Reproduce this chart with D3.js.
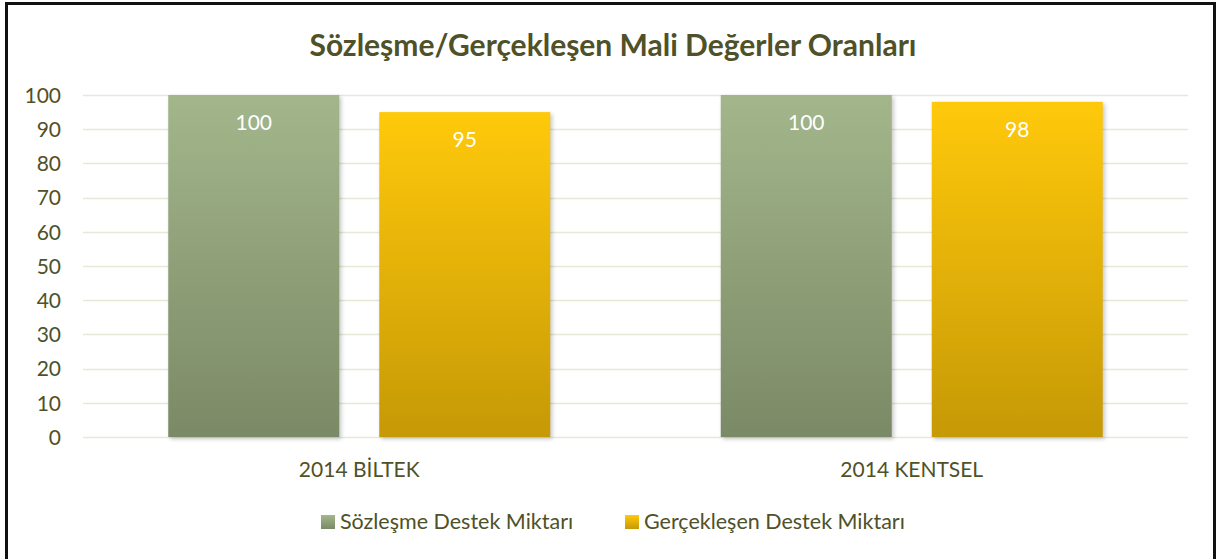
<!DOCTYPE html>
<html><head><meta charset="utf-8">
<script src="https://cdn.jsdelivr.net/npm/d3@7"></script>
<style>
html,body{margin:0;padding:0;background:#fff;}
svg{display:block;}
text{font-family:Lato,"Open Sans",sans-serif;}
</style></head>
<body>
<svg id="c" width="1217" height="559"></svg>
<script>
const title = "Sözleşme/Gerçekleşen Mali Değerler Oranları";
const categories = ["2014 BİLTEK", "2014 KENTSEL"];
const seriesNames = ["Sözleşme Destek Miktarı", "Gerçekleşen Destek Miktarı"];
const sozlesme = [100, 100];
const gerceklesen = [95, 98];
const yTicks = [0,10,20,30,40,50,60,70,80,90,100];

const W = 1217, H = 559;
const svg = d3.select("#c");
const textCol = "#4F5128";

const defs = svg.append("defs");
function grad(id, top, bot){
  const g = defs.append("linearGradient").attr("id", id).attr("x1",0).attr("y1",0).attr("x2",0).attr("y2",1);
  g.append("stop").attr("offset","0%").attr("stop-color",top);
  g.append("stop").attr("offset","100%").attr("stop-color",bot);
}
grad("gGreen", "#A3B68B", "#7B8A66");
grad("gGold", "#FFC90B", "#C69906");
const f = defs.append("filter").attr("id","blur").attr("x","-20%").attr("y","-20%").attr("width","140%").attr("height","140%");
f.append("feGaussianBlur").attr("stdDeviation",2.2);

// border
svg.append("path").attr("d", `M6.5,${H} V3.5 H1214.5 V${H}`).attr("fill","none").attr("stroke","#111").attr("stroke-width",3);

svg.append("text").attr("x", 613).attr("y", 56).attr("text-anchor","middle")
  .attr("font-size", 30).attr("font-weight","bold").attr("fill", textCol).text(title);

const x0 = d3.scaleBand().domain(categories).range([83, 1188]).paddingInner(0).paddingOuter(0);
const y = d3.scaleLinear().domain([0,100]).range([437, 95]);

// grid
svg.append("g").selectAll("line").data(yTicks).join("line")
  .attr("x1", 83).attr("x2", 1188)
  .attr("y1", d=>Math.round(y(d))+0.5).attr("y2", d=>Math.round(y(d))+0.5)
  .attr("stroke","#E6E9D6").attr("stroke-width",1.6);

// y axis labels
const yAxis = d3.axisLeft(y).tickValues(yTicks).tickSize(0).tickPadding(0);
const ya = svg.append("g").attr("transform","translate(61,0)").call(yAxis);
ya.select(".domain").remove();
ya.selectAll("text").attr("font-size",21).attr("fill",textCol).style("font-family","Lato,'Open Sans',sans-serif").attr("dy","0.35em");

const bw = 171, gap = 40;
const data = categories.map((c,i)=>({c, vals:[sozlesme[i], gerceklesen[i]]}));
const fills = ["url(#gGreen)", "url(#gGold)"];
const groups = svg.append("g").selectAll("g").data(data).join("g");
groups.each(function(d){
  const g = d3.select(this);
  const cx = x0(d.c) + x0.bandwidth()/2;
  d.vals.forEach((v,j)=>{
    const bx = cx - (bw*2+gap)/2 + j*(bw+gap);
    g.append("rect").attr("x", bx+2).attr("y", y(v)+2).attr("width", bw).attr("height", y(0)-y(v))
      .attr("fill", "#000").attr("opacity",0.22).attr("filter","url(#blur)");
    g.append("rect").attr("x", bx).attr("y", y(v)).attr("width", bw).attr("height", y(0)-y(v))
      .attr("fill", fills[j]);
    g.append("text").attr("x", bx + bw/2).attr("y", y(v) + 35).attr("text-anchor","middle")
      .attr("font-size", 21).attr("fill","#fff").text(v);
  });
});

// x labels
const xAxis = d3.axisBottom(x0).tickSize(0).tickPadding(0);
const xa = svg.append("g").attr("transform","translate(0,477)").call(xAxis);
xa.select(".domain").remove();
xa.selectAll("text").attr("font-size",21).attr("fill",textCol).style("font-family","Lato,'Open Sans',sans-serif").attr("dy","0");

// legend
const legItems = [{n:seriesNames[0], f:fills[0], x:321},{n:seriesNames[1], f:fills[1], x:625}];
const lg = svg.append("g").selectAll("g").data(legItems).join("g").attr("transform", d=>`translate(${d.x},0)`);
lg.append("rect").attr("x",0).attr("y",515).attr("width",14).attr("height",14).attr("fill", d=>d.f);
lg.append("text").attr("x",19).attr("y",529).attr("font-size",21.5).attr("fill",textCol).text(d=>d.n);
</script>
</body></html>
